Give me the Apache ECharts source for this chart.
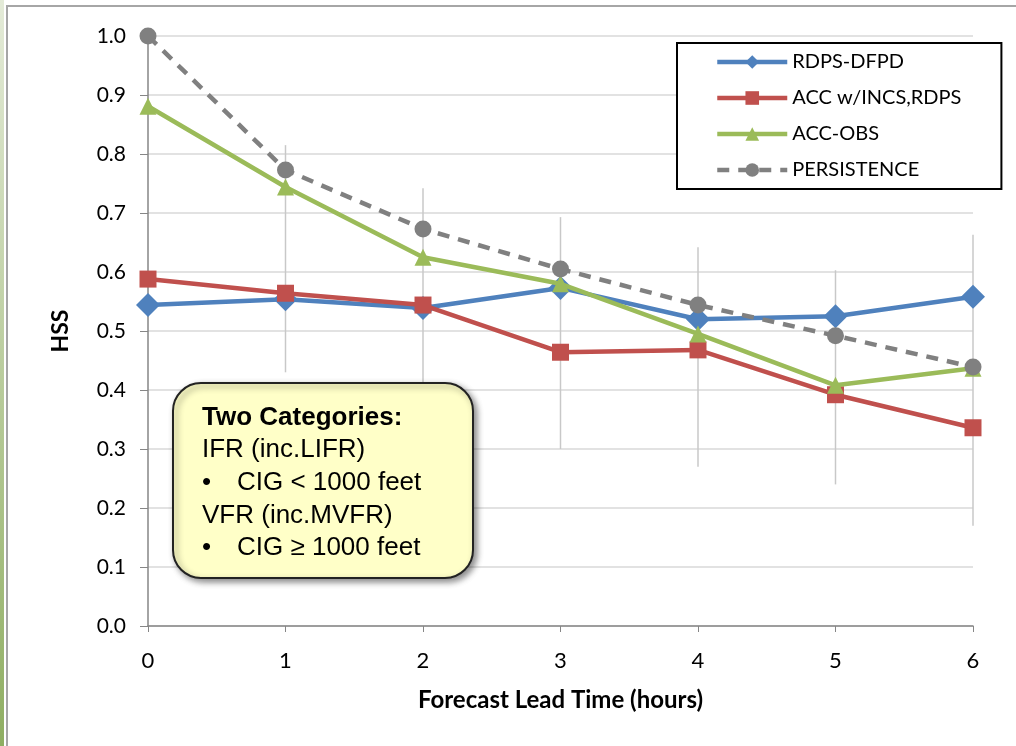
<!DOCTYPE html>
<html>
<head>
<meta charset="utf-8">
<script src="https://cdn.jsdelivr.net/npm/echarts@6/dist/echarts.min.js"></script>
<style>
  html, body { margin: 0; padding: 0; background: #fff; }
  #chart { width: 1016px; height: 746px; }
</style>
</head>
<body>
<div id="chart"></div>
<script>
// lead time in hours
var leadHours = [0, 1, 2, 3, 4, 5, 6];

var rdpsDfpd = [0.544, 0.554, 0.539, 0.573, 0.520, 0.525, 0.558];
var accIncs = [0.588, 0.564, 0.544, 0.464, 0.468, 0.392, 0.336];
var accObs = [0.881, 0.744, 0.625, 0.580, 0.495, 0.408, 0.437];
var persistence = [1.0, 0.773, 0.673, 0.605, 0.544, 0.492, 0.439];

// vertical range bars (low, high) per lead hour
var rangeLow = [null, 0.43, 0.40, 0.30, 0.27, 0.24, 0.17];
var rangeHigh = [null, 0.815, 0.742, 0.693, 0.642, 0.603, 0.663];

var noteLines = ['Two Categories:', 'IFR (inc.LIFR)', '•', 'VFR (inc.MVFR)', '•'];
var noteBullets = ['CIG < 1000 feet', 'CIG ≥ 1000 feet'];

var font = 'Lato, "Liberation Sans", sans-serif';
var noteFont = '"Liberation Sans", Arial, sans-serif';

function pairs(vals) {
  return leadHours.map(function (h, i) { return [h, vals[i]]; });
}

var rangeData = [];
leadHours.forEach(function (h, i) {
  if (rangeLow[i] != null) rangeData.push([h, rangeLow[i], rangeHigh[i]]);
});

var chart = echarts.init(document.getElementById('chart'));

var noteText = [];
var noteY = [418, 450, 483, 516, 548];
noteLines.forEach(function (t, i) {
  noteText.push({
    type: 'text', z: 101,
    style: {
      x: 202, y: noteY[i], text: t, verticalAlign: 'middle',
      font: (i === 0 ? 'bold ' : '') + '26px ' + noteFont,
      fill: '#000'
    }
  });
});
[2, 4].forEach(function (row, k) {
  noteText.push({
    type: 'text', z: 101,
    style: { x: 237, y: noteY[row], text: noteBullets[k], verticalAlign: 'middle',
      font: '26px ' + noteFont, fill: '#000' }
  });
});

chart.setOption({
  animation: false,
  backgroundColor: '#fff',
  grid: { left: 148, right: 43, top: 36, bottom: 120 },
  legend: {
    orient: 'vertical',
    left: 677, top: 43,
    padding: [9, 40, 9, 38],
    itemWidth: 70, itemHeight: 17, itemGap: 16,
    borderColor: '#000', borderWidth: 2,
    backgroundColor: '#fff',
    lineStyle: { width: 4.5 },
    textStyle: { fontFamily: font, fontSize: 20, color: '#000' },
    data: ['RDPS-DFPD', 'ACC w/INCS,RDPS', 'ACC-OBS', 'PERSISTENCE'],
    z: 20
  },
  xAxis: {
    type: 'value', min: 0, max: 6, interval: 1,
    name: 'Forecast Lead Time (hours)',
    nameLocation: 'middle', nameGap: 62,
    nameTextStyle: { fontFamily: font, fontSize: 24, fontWeight: 'bold', color: '#000' },
    axisLine: { show: true, lineStyle: { color: '#868686', width: 1.5 } },
    axisTick: { show: true, length: 6, lineStyle: { color: '#868686' } },
    axisLabel: { fontFamily: font, fontSize: 22, color: '#000', margin: 24 },
    splitLine: { show: false }
  },
  yAxis: {
    type: 'value', min: 0, max: 1, interval: 0.1,
    name: 'HSS',
    nameLocation: 'middle', nameGap: 76, nameRotate: 90,
    nameTextStyle: { fontFamily: font, fontSize: 23, fontWeight: 'bold', color: '#000' },
    axisLine: { show: true, lineStyle: { color: '#868686', width: 1.5 } },
    axisTick: { show: true, length: 8, lineStyle: { color: '#868686' } },
    axisLabel: { fontFamily: font, fontSize: 21, color: '#000', margin: 22,
      formatter: function (v) { return v.toFixed(1); } },
    splitLine: { show: true, lineStyle: { color: '#D9D9D9', width: 1.5 } }
  },
  graphic: [
    {
      type: 'rect', z: 0, silent: true,
      shape: { x: 0, y: 0, width: 4, height: 746 },
      style: {
        fill: new echarts.graphic.LinearGradient(0, 0, 0, 1, [
          { offset: 0, color: '#E4EBD8' },
          { offset: 1, color: '#8FAE62' }
        ])
      }
    },
    {
      type: 'rect', z: 0, silent: true,
      shape: { x: 7, y: 6, width: 1100, height: 1000 },
      style: { fill: 'none', stroke: '#A6A6A6', lineWidth: 2 }
    },
    {
      type: 'rect', z: 100, silent: true,
      shape: { x: 173, y: 383, width: 300, height: 195, r: 28 },
      style: {
        fill: '#FFFFC8', stroke: '#222', lineWidth: 2,
        shadowBlur: 6, shadowOffsetX: 3, shadowOffsetY: 3,
        shadowColor: 'rgba(0,0,0,0.45)'
      }
    }
  ].concat(noteText),
  series: [
    {
      type: 'custom',
      name: 'range',
      z: 1,
      silent: true,
      data: rangeData,
      encode: { x: 0, y: [1, 2] },
      renderItem: function (params, api) {
        var p1 = api.coord([api.value(0), api.value(1)]);
        var p2 = api.coord([api.value(0), api.value(2)]);
        return {
          type: 'line',
          shape: { x1: p1[0], y1: p1[1], x2: p2[0], y2: p2[1] },
          style: { stroke: '#C8C8C8', lineWidth: 1.5 }
        };
      }
    },
    {
      name: 'RDPS-DFPD', type: 'line', z: 3,
      data: pairs(rdpsDfpd),
      symbol: 'diamond', symbolSize: 24,
      itemStyle: { color: '#4F81BD' },
      lineStyle: { color: '#4F81BD', width: 4.5 }
    },
    {
      name: 'ACC w/INCS,RDPS', type: 'line', z: 4,
      data: pairs(accIncs),
      symbol: 'rect', symbolSize: 17,
      itemStyle: { color: '#C0504D' },
      lineStyle: { color: '#C0504D', width: 4.5 }
    },
    {
      name: 'ACC-OBS', type: 'line', z: 5,
      data: pairs(accObs),
      symbol: 'triangle', symbolSize: 17,
      itemStyle: { color: '#9BBB59' },
      lineStyle: { color: '#9BBB59', width: 4.5 }
    },
    {
      name: 'PERSISTENCE', type: 'line', z: 6,
      data: pairs(persistence),
      symbol: 'circle', symbolSize: 17,
      itemStyle: { color: '#808080' },
      lineStyle: { color: '#808080', width: 4.5, type: [12, 9] }
    }
  ]
});
</script>
</body>
</html>
